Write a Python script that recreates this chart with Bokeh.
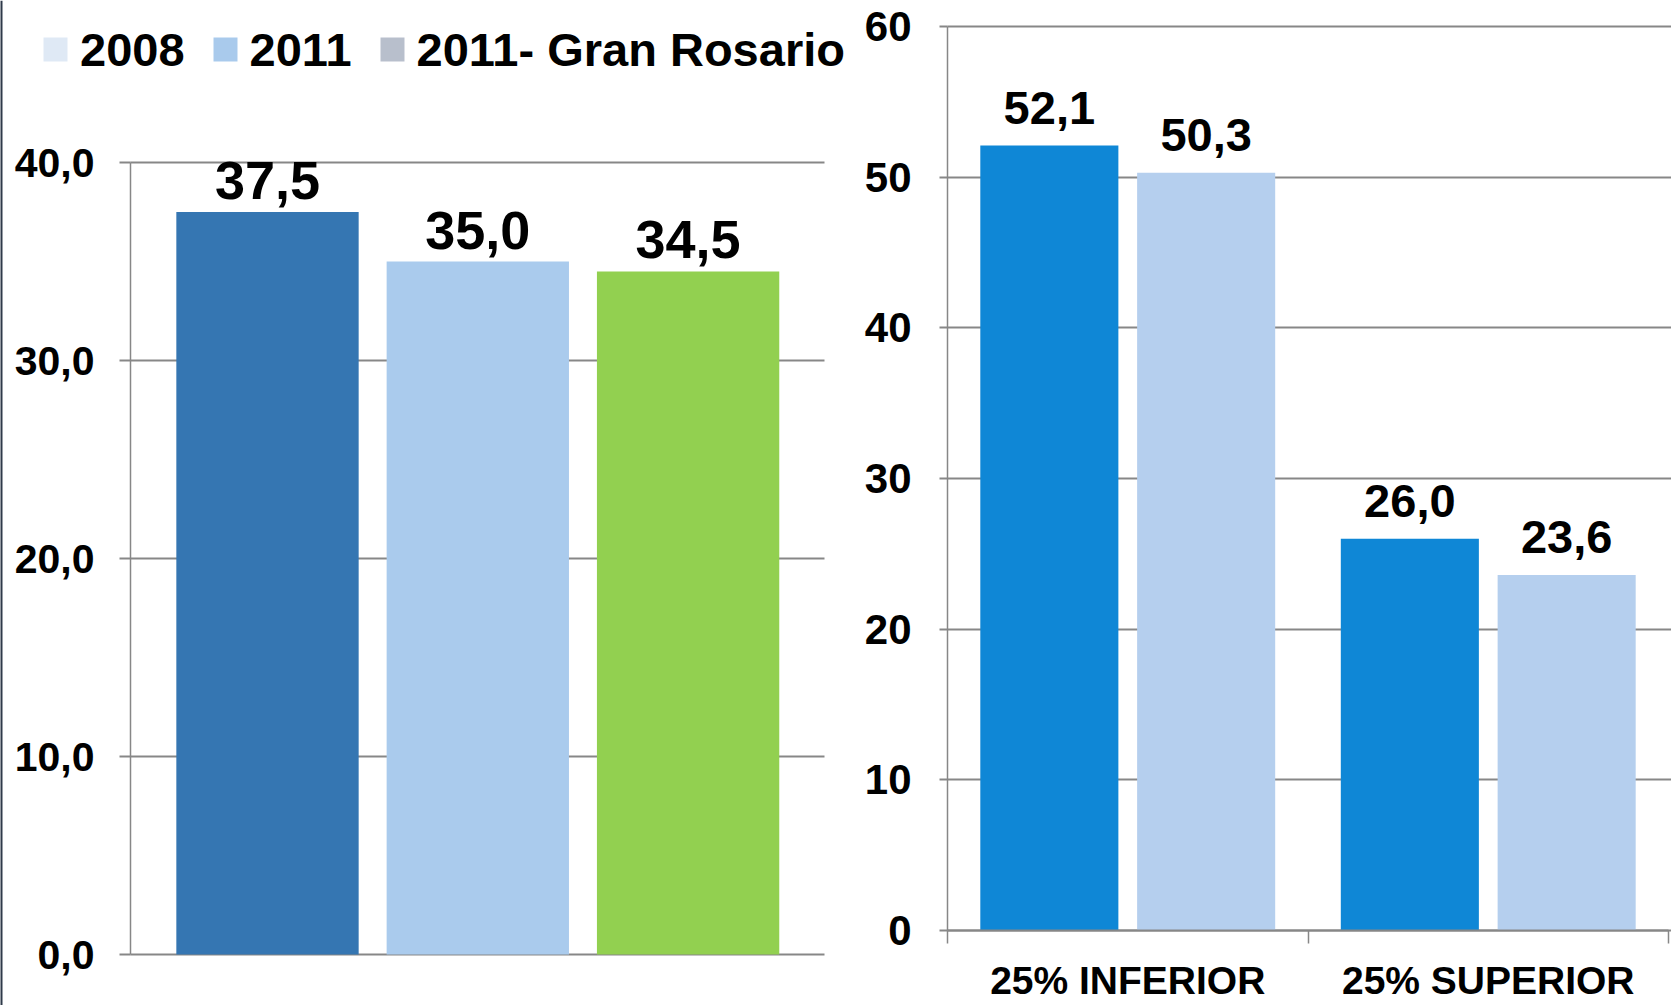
from bokeh.plotting import figure
from bokeh.layouts import row
from bokeh.models import (Range1d, FixedTicker, Legend, LegendItem, ColumnDataSource, Span)
from bokeh.core.properties import value
from bokeh.embed import file_html
from bokeh.resources import INLINE

# ---------------- data ----------------
left_series = ["2008", "2011", "2011- Gran Rosario"]
left_values = [37.5, 35.0, 34.5]
left_bar_colors = ["#3576B2", "#AACBED", "#92D050"]
left_legend_colors = ["#DFE9F5", "#A9CAEC", "#B8BFCC"]
left_ticks = [0, 10, 20, 30, 40]

right_categories = ["25% INFERIOR", "25% SUPERIOR"]
right_series_a = [52.1, 26.0]
right_series_b = [50.3, 23.6]
right_colors = ["#0F87D6", "#B5CFEE"]
right_ticks = [0, 10, 20, 30, 40, 50, 60]

FONT = value("Liberation Sans")
FONT_NAME = "Liberation Sans"
GRID = "#878787"
H = 1005


def fmt(v):
    return f"{v:.1f}".replace(".", ",")


# ---------------- left chart ----------------
LW = 860
L_PX = 210.3                      # pixels per category
L_PY = (954 - 162) / 40.0         # pixels per unit
lx0 = 1 - 267 / L_PX
lp = figure(width=LW, height=H, output_backend="svg", toolbar_location=None,
            min_border=0, min_border_left=0, min_border_right=0,
            min_border_top=0, min_border_bottom=0)
lp.outline_line_color = None
lp.x_range = Range1d(lx0, lx0 + LW / L_PX)
lp.y_range = Range1d(-(H - 954) / L_PY, 954 / L_PY)
l_axis_x = lx0 + 130 / L_PX
l_grid_end = lx0 + 824 / L_PX

# slide border at the far left
lp.add_layout(Span(location=lx0, dimension="height", line_color="#2F3A4A", line_width=4))

lx = [i + 1 for i in range(len(left_series))]
lsrc = ColumnDataSource(dict(x=lx, top=left_values, color=left_bar_colors,
                             label=[fmt(v) for v in left_values]))
lp.vbar(x="x", top="top", width=0.867, fill_color="color", line_color=None, source=lsrc)
lp.text(x="x", y="top", text="label", source=lsrc, text_font=FONT,
        text_font_style="bold", text_font_size="54px", text_align="center",
        text_baseline="bottom", y_offset=-13, text_color="#000000")

items = []
for i, name in enumerate(left_series):
    r = lp.vbar(x=[lx[i]], top=[left_values[i]], width=0.867,
                fill_color=left_legend_colors[i], line_color=None, visible=False)
    items.append(LegendItem(label=name, renderers=[r]))
legend = Legend(items=items, orientation="horizontal", location=(40, 926),
                glyph_width=30, glyph_height=30, label_height=60,
                label_standoff=10, spacing=25,
                padding=0, margin=0, border_line_color=None,
                background_fill_alpha=0, label_text_font=FONT_NAME,
                label_text_font_style="bold", label_text_font_size="47px",
                label_text_color="#000000")
lp.add_layout(legend)

lp.xaxis.visible = False
lp.xgrid.visible = False
lp.yaxis.fixed_location = l_axis_x
lp.yaxis.ticker = FixedTicker(ticks=left_ticks)
lp.yaxis.bounds = (0, 40)
lp.yaxis.major_label_overrides = {t: fmt(t) for t in left_ticks}
lp.yaxis.major_label_text_font = FONT_NAME
lp.yaxis.major_label_text_font_style = "bold"
lp.yaxis.major_label_text_font_size = "41px"
lp.yaxis.major_label_text_color = "#000000"
lp.yaxis.major_label_standoff = 25
lp.yaxis.axis_line_color = GRID
lp.yaxis.axis_line_width = 1.5
lp.yaxis.major_tick_line_color = GRID
lp.yaxis.major_tick_line_width = 2
lp.yaxis.major_tick_out = 11
lp.yaxis.major_tick_in = 0
lp.yaxis.minor_tick_line_color = None
lp.ygrid.ticker = FixedTicker(ticks=left_ticks)
lp.ygrid.cross_bounds = (l_axis_x, l_grid_end)
lp.ygrid.grid_line_color = GRID
lp.ygrid.grid_line_width = 2

# ---------------- right chart ----------------
RW = 1671 - LW
R_PX = 360.5
R_PY = (930 - 26) / 60.0
rx0 = -(947 - LW) / R_PX
rp = figure(width=RW, height=H, output_backend="svg", toolbar_location=None,
            min_border=0, min_border_left=0, min_border_right=0,
            min_border_top=0, min_border_bottom=0)
rp.outline_line_color = None
rp.x_range = Range1d(rx0, rx0 + RW / R_PX)
rp.y_range = Range1d(-(H - 930) / R_PY, 60 + 26 / R_PY)

rx = [i + 0.5 for i in range(len(right_categories))]
xa = [x - 0.2175 for x in rx]
xb = [x + 0.2175 for x in rx]
rp.vbar(x=xa, top=right_series_a, width=0.383, fill_color=right_colors[0], line_color=None)
rp.vbar(x=xb, top=right_series_b, width=0.383, fill_color=right_colors[1], line_color=None)
rp.text(x=xa + xb, y=right_series_a + right_series_b,
        text=[fmt(v) for v in right_series_a + right_series_b], text_font=FONT,
        text_font_style="bold", text_font_size="47px", text_align="center",
        text_baseline="bottom", y_offset=-22, text_color="#000000")

rp.xaxis.fixed_location = 0
rp.xaxis.bounds = (0, len(right_categories))
rp.xaxis.ticker = FixedTicker(ticks=rx, minor_ticks=list(range(len(right_categories) + 1)))
rp.xaxis.major_label_overrides = {x: c for x, c in zip(rx, right_categories)}
rp.xaxis.major_label_text_font = FONT_NAME
rp.xaxis.major_label_text_font_style = "bold"
rp.xaxis.major_label_text_font_size = "39px"
rp.xaxis.major_label_text_color = "#000000"
rp.xaxis.major_label_standoff = 15
rp.xaxis.major_tick_out = 0
rp.xaxis.major_tick_in = 0
rp.xaxis.minor_tick_out = 13
rp.xaxis.minor_tick_in = 0
rp.xaxis.minor_tick_line_color = GRID
rp.xaxis.minor_tick_line_width = 1.5
rp.xaxis.axis_line_color = GRID
rp.xaxis.axis_line_width = 2
rp.xgrid.visible = False

rp.yaxis.fixed_location = 0
rp.yaxis.bounds = (0, 60)
rp.yaxis.ticker = FixedTicker(ticks=right_ticks)
rp.yaxis.major_label_text_font = FONT_NAME
rp.yaxis.major_label_text_font_style = "bold"
rp.yaxis.major_label_text_font_size = "42px"
rp.yaxis.major_label_text_color = "#000000"
rp.yaxis.major_label_standoff = 28
rp.yaxis.axis_line_color = GRID
rp.yaxis.axis_line_width = 1.5
rp.yaxis.major_tick_line_color = GRID
rp.yaxis.major_tick_line_width = 2
rp.yaxis.major_tick_out = 8
rp.yaxis.major_tick_in = 0
rp.yaxis.minor_tick_line_color = None
rp.ygrid.ticker = FixedTicker(ticks=right_ticks)
rp.ygrid.cross_bounds = (0, rx0 + RW / R_PX)
rp.ygrid.grid_line_color = GRID
rp.ygrid.grid_line_width = 2

layout = row(lp, rp, spacing=0)
open("out.html", "w").write(file_html(layout, INLINE))
